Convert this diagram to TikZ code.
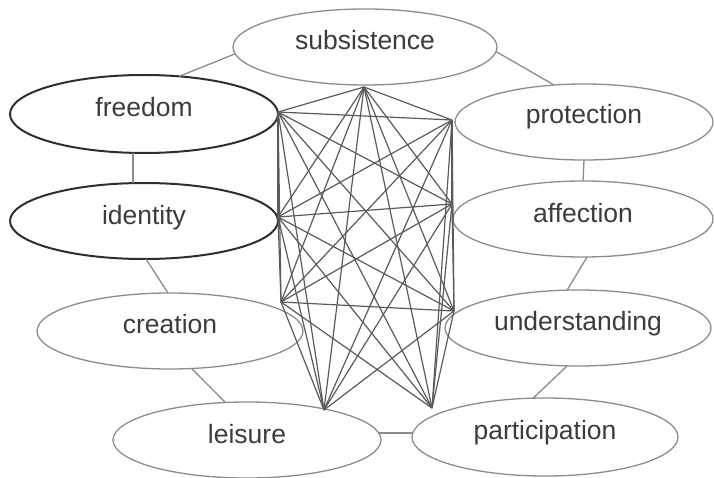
\documentclass[tikz,border=0pt]{standalone}
\usepackage{fontspec}
\setmainfont{Liberation Sans}
\usetikzlibrary{shapes.geometric}
\definecolor{ringgray}{HTML}{8C8C8C}
\definecolor{darkline}{HTML}{2E2E2E}
\definecolor{webgray}{HTML}{5A5A5A}
\definecolor{txtgray}{HTML}{3C3C3C}
\begin{document}
\begin{tikzpicture}[x=1pt,y=-1pt,
  need/.style={ellipse, draw=ringgray, line width=1.3pt, inner sep=0pt, outer sep=0pt},
  boldneed/.style={need, draw=darkline, line width=2pt},
  word/.style={anchor=base, text=txtgray, font=\fontsize{26.5}{30}\selectfont, inner sep=0pt},
  web/.style={draw=webgray, line width=1.2pt},
  ring/.style={draw=ringgray, line width=1.3pt}]

\useasboundingbox (0,0) rectangle (714,478);

% the nine needs
\node[need, minimum width=264pt, minimum height=76pt] (sub) at (365,47) {};
\node[boldneed, minimum width=268pt, minimum height=78pt] (fre) at (144,114) {};
\node[boldneed, minimum width=268pt, minimum height=76pt] (ide) at (144,221) {};
\node[need, minimum width=258pt, minimum height=76pt] (pro) at (584,122) {};
\node[need, minimum width=260pt, minimum height=76pt] (aff) at (583,219) {};
\node[need, minimum width=266pt, minimum height=76pt] (und) at (578,328) {};
\node[need, minimum width=266pt, minimum height=78pt] (par) at (545,437) {};
\node[need, minimum width=266pt, minimum height=76pt] (cre) at (170,331) {};
\node[need, minimum width=268pt, minimum height=76pt] (lei) at (247,440) {};

% labels, set slightly above each centre
\node[word] (sub-t) at ([yshift=-3pt]sub.center) {subsistence};
\node[word] (fre-t) at ([yshift=-3pt]fre.center) {freedom};
\node[word] (ide-t) at ([yshift=-4pt]ide.center) {identity};
\node[word] (pro-t) at ([yshift=-2pt]pro.center) {protection};
\node[word] (aff-t) at ([yshift=-4pt]aff.center) {affection};
\node[word] (und-t) at ([yshift=-2pt]und.center) {understanding};
\node[word] (par-t) at ([yshift=-2pt]par.center) {participation};
\node[word] (cre-t) at ([yshift=-2pt]cre.center) {creation};
\node[word] (lei-t) at ([yshift=-3pt]lei.center) {leisure};

% outer ring
\draw[ring] (sub.183) -- (fre.47);
\draw[ring] (sub.-2) -- (pro.129);
\draw[ring] (fre.254) -- (fre.254 |- ide.north);
\draw[ring] (pro.south) -- (aff.north);
\draw[ring] (aff.-84) -- (und.106);
\draw[ring] (und.254) -- (par.107);
\draw[ring] (lei.3) -- (lei.3 -| par.west);
\draw[ring] (cre.-60) -- (lei.120);
\draw[ring] (ide.-87) -- (cre.93);

% hub points of the inner web
\coordinate (nS) at (364,87);
\coordinate (nF) at (278,112);
\coordinate (nP) at (452,120);
\coordinate (nI) at (278,217);
\coordinate (nA) at (452,204);
\coordinate (nC) at (281,302);
\coordinate (nU) at (454,311);
\coordinate (nL) at (324,410);
\coordinate (nQ) at (432,408);

\foreach \u/\v in {nS/nF,nS/nP,nS/nI,nS/nA,nS/nC,nS/nU,nS/nL,nS/nQ,
                   nF/nP,nF/nI,nF/nA,nF/nC,nF/nU,nF/nL,nF/nQ,
                   nP/nI,nP/nA,nP/nC,nP/nU,nP/nL,nP/nQ,
                   nI/nA,nI/nC,nI/nU,nI/nL,nI/nQ,
                   nA/nC,nA/nU,nA/nL,nA/nQ,
                   nC/nU,nC/nL,nC/nQ,
                   nU/nL,nU/nQ}
  \draw[web] (\u) -- (\v);

\end{tikzpicture}
\end{document}
